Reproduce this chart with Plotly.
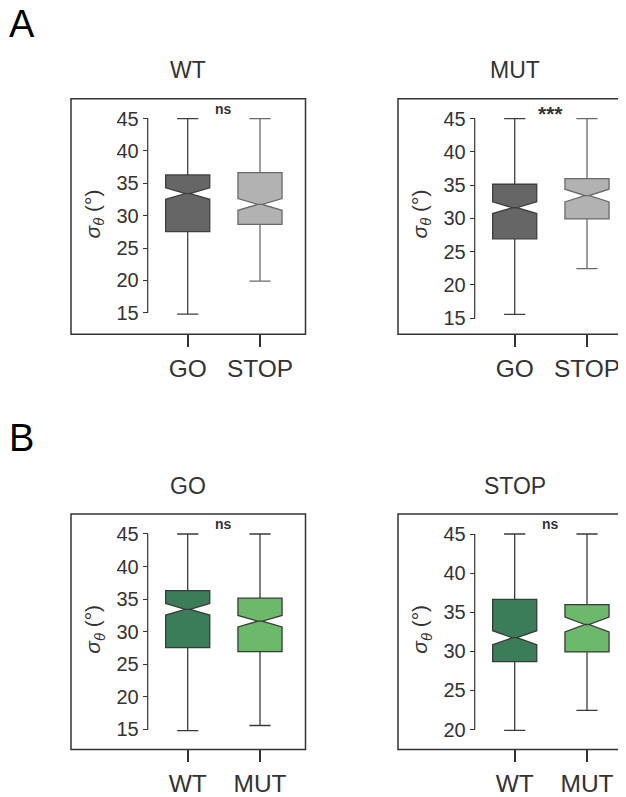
import plotly.graph_objects as go

W, H = 626, 797          # browser window / reference size
OFF = 8                   # default body margin of the html page
WF, HF = W - OFF, H - OFF # figure size so the page fits the window exactly

# ---------------- data ----------------
# order inside each list: [GO, STOP]
wt_lower  = [14.80, 19.90]
wt_q1     = [27.55, 28.67]
wt_median = [33.42, 31.74]
wt_q3     = [36.30, 36.64]
wt_upper  = [45.00, 45.00]
wt_notch  = [0.88, 0.90]

mut_lower  = [15.57, 22.44]
mut_q1     = [26.93, 29.92]
mut_median = [31.60, 33.43]
mut_q3     = [35.13, 35.96]
mut_upper  = [45.00, 45.00]
mut_notch  = [0.88, 0.95]

conditions = ["GO", "STOP"]
genotypes = ["WT", "MUT"]
sig_A = ["ns", "***"]      # WT: GO vs STOP ; MUT: GO vs STOP
sig_B = ["ns", "ns"]       # GO: WT vs MUT ; STOP: WT vs MUT
yticks_A = [15, 20, 25, 30, 35, 40, 45]
yticks_B_go = [15, 20, 25, 30, 35, 40, 45]
yticks_B_stop = [20, 25, 30, 35, 40, 45]

stats = {
    "WT": dict(lower=wt_lower, q1=wt_q1, med=wt_median, q3=wt_q3, upper=wt_upper, notch=wt_notch),
    "MUT": dict(lower=mut_lower, q1=mut_q1, med=mut_median, q3=mut_q3, upper=mut_upper, notch=mut_notch),
}

GRAY_DARK, GRAY_LIGHT = "#666666", "#b2b2b2"
GREEN_DARK, GREEN_LIGHT = "#3a7d58", "#6cb96c"
FONT = "Liberation Sans, Arial, Helvetica, sans-serif"
TXT = "#333333"

# ---------------- layout geometry (window pixels) ----------------
left_frame = (71, 305.5)
right_frame = (398, 632.7)
spacing_px = 72.3
cat0_offset = 116.7       # px from frame left to first category
spine_offset = 40.0       # px from first category to y spine
rowA = (99, 335.5)
rowB = (516, 752.3)

panels = [
    dict(title="WT", cats=conditions, entries=[("WT", 0), ("WT", 1)],
         colors=[GRAY_DARK, GRAY_LIGHT], lines=["#3f3f3f", "#6a6a6a"],
         frame=left_frame, row=rowA, yr=[11.69, 48.08], ticks=yticks_A,
         sig=sig_A[0], sigsize=14, sigdy=10),
    dict(title="MUT", cats=conditions, entries=[("MUT", 0), ("MUT", 1)],
         colors=[GRAY_DARK, GRAY_LIGHT], lines=["#3f3f3f", "#6a6a6a"],
         frame=right_frame, row=rowA, yr=[12.59, 47.99], ticks=yticks_A,
         sig=sig_A[1], sigsize=21, sigdy=15),
    dict(title="GO", cats=genotypes, entries=[("WT", 0), ("MUT", 0)],
         colors=[GREEN_DARK, GREEN_LIGHT], lines=["#3a3a3a", "#3a3a3a"],
         frame=left_frame, row=rowB, yr=[11.89, 48.06], ticks=yticks_B_go,
         sig=sig_B[0], sigsize=14, sigdy=10),
    dict(title="STOP", cats=genotypes, entries=[("WT", 1), ("MUT", 1)],
         colors=[GREEN_DARK, GREEN_LIGHT], lines=["#3a3a3a", "#3a3a3a"],
         frame=right_frame, row=rowB, yr=[17.45, 47.55], ticks=yticks_B_stop,
         sig=sig_B[1], sigsize=14, sigdy=10),
]

fx = lambda px: (px - OFF) / WF
fy = lambda py: 1 - (py - OFF) / HF

fig = go.Figure()
shapes, annotations = [], []
layout = {}

for i, p in enumerate(panels):
    n = i + 1
    sfx = "" if n == 1 else str(n)
    xa, ya = "x" + sfx, "y" + sfx
    f0, f1 = p["frame"]
    r0, r1 = p["row"]
    dom_right = min(f1, W)
    cat0 = f0 + cat0_offset
    xr = [-(cat0 - f0) / spacing_px, (dom_right - cat0) / spacing_px]

    for j, (g, c) in enumerate(p["entries"]):
        s = stats[g]
        fig.add_trace(go.Box(
            x=[j], q1=[s["q1"][c]], median=[s["med"][c]], q3=[s["q3"][c]],
            lowerfence=[s["lower"][c]], upperfence=[s["upper"][c]],
            notchspan=[s["notch"][c]], notched=True, notchwidth=0.45,
            width=0.61, whiskerwidth=0.48, orientation="v",
            fillcolor=p["colors"][j], line=dict(color=p["lines"][j], width=1.3),
            boxpoints=False, showlegend=False, hoverinfo="skip",
            xaxis=xa, yaxis=ya,
        ))

    spine_px = cat0 - spine_offset
    layout["xaxis" + sfx] = dict(
        domain=[fx(f0), min(1.0, fx(dom_right))], range=xr, anchor=ya,
        tickmode="array", tickvals=list(range(len(p["cats"]))), ticktext=p["cats"],
        ticks="outside", ticklen=12, tickwidth=1.6, tickcolor=TXT,
        showline=False, showgrid=False, zeroline=False,
        tickfont=dict(size=24.5, color=TXT, family=FONT),
    )
    layout["yaxis" + sfx] = dict(
        domain=[fy(r1), fy(r0)], range=p["yr"], anchor="free", position=fx(spine_px),
        tickmode="array", tickvals=p["ticks"],
        ticks="outside", ticklen=5, tickwidth=1.2, tickcolor=TXT,
        showline=False, showgrid=False, zeroline=False,
        tickfont=dict(size=20, color=TXT, family=FONT),
    )
    # frame
    shapes.append(dict(type="rect", xref="paper", yref="paper",
                       x0=fx(f0), x1=fx(f1), y0=fy(r1), y1=fy(r0),
                       line=dict(color=TXT, width=1.5), fillcolor="rgba(0,0,0,0)", layer="above"))
    # trimmed y spine
    shapes.append(dict(type="line", xref="paper", yref=ya,
                       x0=fx(spine_px), x1=fx(spine_px), y0=min(p["ticks"]), y1=max(p["ticks"]),
                       line=dict(color=TXT, width=1.2)))
    # panel title
    annotations.append(dict(text=p["title"], xref="paper", yref="paper",
                            x=fx((f0 + f1) / 2), y=fy(r0 - 28.5), showarrow=False,
                            xanchor="center", yanchor="middle",
                            font=dict(size=23, color=TXT, family=FONT)))
    # significance
    annotations.append(dict(text="<b>%s</b>" % p["sig"], xref=xa, yref="paper",
                            x=0.5, y=fy(r0 + p["sigdy"]), showarrow=False,
                            xanchor="center", yanchor="middle",
                            font=dict(size=p["sigsize"], color=TXT, family=FONT)))
    # y label
    annotations.append(dict(text="<i>σ</i><sub><i>θ</i></sub> (°)", xref="paper", yref="paper",
                            x=fx(f0 + 23), y=fy((r0 + r1) / 2 - 2), showarrow=False, textangle=-90,
                            xanchor="center", yanchor="middle",
                            font=dict(size=21, color=TXT, family=FONT)))

for lab, py in [("A", 24.2), ("B", 439.7)]:
    annotations.append(dict(text=lab, xref="paper", yref="paper", x=0, y=fy(py),
                            showarrow=False, xanchor="left", yanchor="middle", borderpad=0,
                            font=dict(size=38, color="black", family=FONT)))

fig.update_layout(
    width=WF, height=HF, autosize=False,
    margin=dict(l=0, r=0, t=0, b=0, pad=0),
    paper_bgcolor="white", plot_bgcolor="white",
    shapes=shapes, annotations=annotations, **layout,
)

fig.write_html("out.html")
